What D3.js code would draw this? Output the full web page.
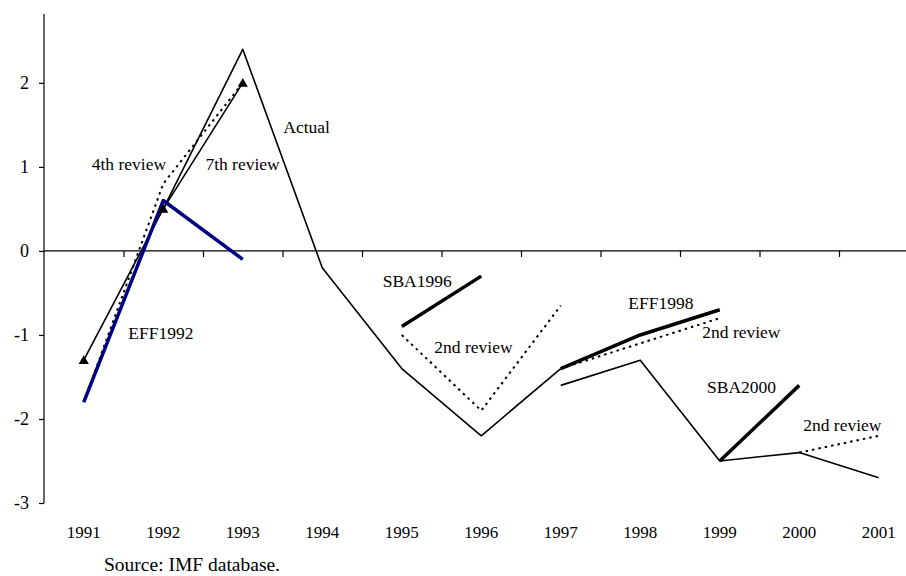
<!DOCTYPE html>
<html>
<head>
<meta charset="utf-8">
<script src="https://cdn.jsdelivr.net/npm/d3@7"></script>
<style>
  body { margin: 0; background: #fff; }
  svg text { font-family: "Liberation Serif", "Times New Roman", serif; fill: #000; }
</style>
</head>
<body>
<div id="chart"></div>
<script>
const years = [1991, 1992, 1993, 1994, 1995, 1996, 1997, 1998, 1999, 2000, 2001];
const yTicks = [-3, -2, -1, 0, 1, 2];

// series: [year, value]
const actual = [[1992, 0.5], [1993, 2.4], [1994, -0.2], [1995, -1.4], [1996, -2.2], [1997, -1.4]];
const actualLate = [[1997, -1.6], [1998, -1.3], [1999, -2.5], [2000, -2.4], [2001, -2.7]];
const review7th = [[1991, -1.3], [1992, 0.5], [1993, 2.0]];
const review4th = [[1991, -1.8], [1992, 0.8], [1993, 2.0]];
const eff1992 = [[1991, -1.8], [1992, 0.6], [1993, -0.1]];
const sba1996 = [[1995, -0.9], [1996, -0.3]];
const sba1996Rev = [[1995, -1.0], [1996, -1.9], [1997, -0.65]];
const eff1998 = [[1997, -1.4], [1998, -1.0], [1999, -0.7]];
const eff1998Rev = [[1997, -1.4], [1998, -1.1], [1999, -0.8]];
const sba2000 = [[1999, -2.5], [2000, -1.6]];
const sba2000Rev = [[2000, -2.4], [2001, -2.2]];

const labels = [
  ["4th review", 1991.10, 0.96],
  ["7th review", 1992.53, 0.96],
  ["Actual", 1993.51, 1.40],
  ["EFF1992", 1991.56, -1.05],
  ["SBA1996", 1994.76, -0.43],
  ["2nd review", 1995.41, -1.21],
  ["EFF1998", 1997.85, -0.69],
  ["2nd review", 1998.78, -1.04],
  ["SBA2000", 1998.84, -1.69],
  ["2nd review", 2000.05, -2.14]
];

const WIDTH = 906, HEIGHT = 576;

const svg = d3.select("#chart")
  .append("svg")
    .attr("width", WIDTH)
    .attr("height", HEIGHT);

const x = d3.scaleLinear().domain([1990.5, 2001.5]).range([44, 918.5]);
const y = d3.scaleLinear().domain([-3, 2.82]).range([503, 14]);

// y axis
const yAxis = svg.append("g")
  .attr("transform", `translate(${x(1990.5)},0)`)
  .call(d3.axisLeft(y).tickValues(yTicks).tickSize(5).tickPadding(10).tickFormat(d => String(d)));
yAxis.select(".domain").attr("d", `M0,${y(-3)}V${y(2.82)}`).attr("stroke", "#000").attr("stroke-width", 1.2);
yAxis.selectAll(".tick line").attr("stroke", "#000").attr("stroke-width", 1.2);
yAxis.selectAll(".tick text").attr("font-size", 18).attr("fill", "#000");

// x axis at zero, ticks between categories
const xAxis = svg.append("g")
  .attr("transform", `translate(0,${y(0)})`)
  .call(d3.axisBottom(x).tickValues(d3.range(1991.5, 2001, 1)).tickSize(6).tickFormat(""));
xAxis.select(".domain").attr("d", `M${x(1990.5)},0H${WIDTH}`).attr("stroke", "#000").attr("stroke-width", 1.2);
xAxis.selectAll(".tick line").attr("stroke", "#000").attr("stroke-width", 1.2);

// year labels under the plot
svg.append("g").selectAll("text")
  .data(years)
  .join("text")
    .attr("x", d => x(d))
    .attr("y", 538)
    .attr("text-anchor", "middle")
    .attr("font-size", 17)
    .text(d => d);

const line = d3.line().x(d => x(d[0])).y(d => y(d[1]));

function draw(data, color, width, dash) {
  svg.append("path")
    .datum(data)
    .attr("fill", "none")
    .attr("stroke", color)
    .attr("stroke-width", width)
    .attr("stroke-linejoin", "round")
    .attr("stroke-dasharray", dash || null)
    .attr("d", line);
}

draw(actual, "#000", 1.6);
draw(actualLate, "#000", 1.6);
draw(review4th, "#000", 2, "2.5,4");
draw(review7th, "#000", 1.6);
draw(eff1992, "#000080", 3.5);
draw(sba1996, "#000", 3.5);
draw(sba1996Rev, "#000", 2, "2.5,4");
draw(eff1998, "#000", 3.5);
draw(eff1998Rev, "#000", 2, "2.5,4");
draw(sba2000, "#000", 3.5);
draw(sba2000Rev, "#000", 2, "2.5,4");

svg.append("g").selectAll("path")
  .data(review7th)
  .join("path")
    .attr("transform", d => `translate(${x(d[0])},${y(d[1]) + 1})`)
    .attr("d", d3.symbol(d3.symbolTriangle, 45))
    .attr("fill", "#000");

svg.append("g").selectAll("text")
  .data(labels)
  .join("text")
    .attr("x", d => x(d[1]))
    .attr("y", d => y(d[2]))
    .attr("font-size", 17.5)
    .text(d => d[0]);

svg.append("text")
  .attr("x", 104)
  .attr("y", 571)
  .attr("font-size", 19.5)
  .text("Source: IMF database.");
</script>
</body>
</html>
